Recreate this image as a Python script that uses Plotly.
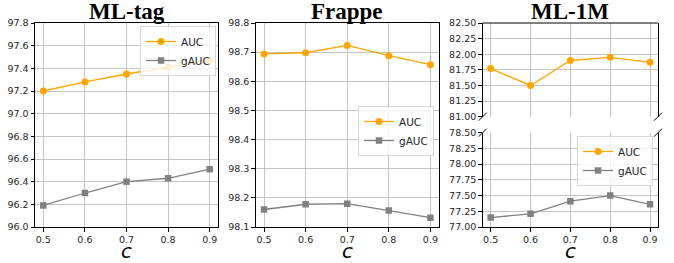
import plotly.graph_objects as go

c_vals = [0.5, 0.6, 0.7, 0.8, 0.9]
c_ticks = ["0.5", "0.6", "0.7", "0.8", "0.9"]

mltag_auc = [97.20, 97.28, 97.35, 97.41, 97.47]
mltag_gauc = [96.19, 96.30, 96.40, 96.43, 96.51]

frappe_auc = [98.694, 98.698, 98.723, 98.688, 98.657]
frappe_gauc = [98.160, 98.178, 98.180, 98.157, 98.132]

ml1m_auc = [81.77, 81.50, 81.90, 81.95, 81.87]
ml1m_gauc = [77.15, 77.21, 77.41, 77.50, 77.36]

titles = ["ML-tag", "Frappe", "ML-1M"]

W, H = 674, 263
ORANGE = "#FFA500"
GRAY = "#808080"
GRID = "#c4c4c4"

def px(x):
    return x / W

def py(y):
    return 1 - y / H

fig = go.Figure()

def add_pair(xa, ya_auc, ya_gauc, auc, gauc, legend):
    fig.add_trace(go.Scatter(x=c_vals, y=auc, mode="lines+markers", name="AUC",
                             line=dict(color=ORANGE, width=1.3),
                             marker=dict(symbol="circle", size=7, color=ORANGE),
                             xaxis=xa, yaxis=ya_auc, legend=legend))
    fig.add_trace(go.Scatter(x=c_vals, y=gauc, mode="lines+markers", name="gAUC",
                             line=dict(color=GRAY, width=1.3),
                             marker=dict(symbol="square", size=6.5, color=GRAY),
                             xaxis=xa, yaxis=ya_gauc, legend=legend))

add_pair("x", "y", "y", mltag_auc, mltag_gauc, "legend")
add_pair("x2", "y2", "y2", frappe_auc, frappe_gauc, "legend2")
add_pair("x3", "y4", "y3", ml1m_auc, ml1m_gauc, "legend3")

tickfont = dict(family="DejaVu Sans", size=9.5, color="#262626")
xrange = [0.48, 0.92]

common_x = dict(range=xrange, tickvals=c_vals, ticktext=c_ticks, tickfont=tickfont,
                showgrid=True, gridcolor=GRID, gridwidth=1, zeroline=False,
                ticks="outside", ticklen=3.5, tickcolor="black", automargin=False,
                showline=True, linecolor="black", linewidth=1)
common_y = dict(tickfont=tickfont, showgrid=True, gridcolor=GRID, gridwidth=1,
                zeroline=False, ticks="outside", ticklen=3.5, tickcolor="black",
                automargin=False,
                showline=True, linecolor="black", linewidth=1, mirror=True)

dom1 = [px(35), px(218)]
dom2 = [px(255.7), px(438.7)]
dom3 = [px(482.7), px(658)]
yfull = [py(227), py(23)]
yup = [py(116.7), py(23)]
ylow = [py(227), py(132.7)]

fig.update_layout(
    width=W, height=H,
    margin=dict(l=0, r=0, t=0, b=0, autoexpand=False),
    plot_bgcolor="white", paper_bgcolor="white",
    xaxis=dict(domain=dom1, anchor="y", mirror=True, **common_x),
    yaxis=dict(domain=yfull, anchor="x", range=[96.0, 97.8], dtick=0.2,
               tickformat=".1f", **common_y),
    xaxis2=dict(domain=dom2, anchor="y2", mirror=True, **common_x),
    yaxis2=dict(domain=yfull, anchor="x2", range=[98.1, 98.8], dtick=0.1,
                tickformat=".1f", **common_y),
    xaxis3=dict(domain=dom3, anchor="y3", mirror=False, **common_x),
    yaxis3=dict(domain=ylow, anchor="x3", range=[77.0, 78.5], dtick=0.25,
                tickformat=".2f", **common_y),
    yaxis4=dict(domain=yup, anchor="x3", range=[81.0, 82.5], dtick=0.25,
                tickformat=".2f", **common_y),
    showlegend=True,
)

legfont = dict(family="DejaVu Sans", size=10.5, color="#262626")
legstyle = dict(bgcolor="rgba(255,255,255,0.8)", bordercolor="#d6d6d6", borderwidth=1,
                font=legfont, xanchor="right", yanchor="top", itemwidth=30,
                tracegroupgap=0)
fig.update_layout(
    legend=dict(x=px(216), y=py(26), **legstyle),
    legend2=dict(x=px(434), y=py(106), **legstyle),
    legend3=dict(x=px(653), y=py(136), **legstyle),
)

# top spine for upper ML-1M panel (no bottom spine)
shapes = []
shapes.append(dict(type="line", xref="paper", yref="paper",
                   x0=dom3[0], x1=dom3[1], y0=yup[1], y1=yup[1],
                   line=dict(color="black", width=1)))
# break marks
d = 4
for yy in (116.7, 132.7):
    for xx in (482.7, 658):
        shapes.append(dict(type="line", xref="paper", yref="paper",
                           x0=px(xx - d), y0=py(yy + d), x1=px(xx + d), y1=py(yy - d),
                           line=dict(color="black", width=1)))
fig.update_layout(shapes=shapes)

centers = [(dom1[0] + dom1[1]) / 2, (dom2[0] + dom2[1]) / 2, (dom3[0] + dom3[1]) / 2]
for t, cx in zip(titles, centers):
    fig.add_annotation(text="<b>" + t + "</b>", x=cx, y=py(12), xref="paper", yref="paper",
                       xanchor="center", yanchor="middle", showarrow=False,
                       font=dict(family="Liberation Serif", size=23, color="black"))
    fig.add_annotation(text="<i>c</i>", x=cx, y=py(250.5), xref="paper", yref="paper",
                       xanchor="center", yanchor="middle", showarrow=False,
                       font=dict(family="DejaVu Sans", size=20, color="black"))

fig.write_html("out.html", config={"displayModeBar": False},
               post_script="document.body.style.margin='0';document.body.style.overflow='hidden';")
